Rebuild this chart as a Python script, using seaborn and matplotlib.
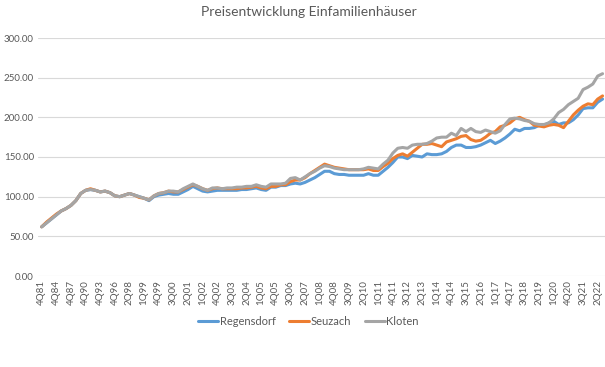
import pandas as pd
import seaborn as sns
import matplotlib.pyplot as plt

# categories: yearly 4Q81..4Q97, then quarterly from 1Q98 to 3Q22
quarters = ['4Q%02d' % y for y in range(81, 98)]
for y in range(98, 123):
    for q in range(1, 5):
        quarters.append('%dQ%02d' % (q, y % 100))
quarters = quarters[:116]

tick_labels = ['4Q81', '4Q84', '4Q87', '4Q90', '4Q93', '4Q96', '2Q98', '1Q99', '4Q99',
               '3Q00', '2Q01', '1Q02', '4Q02', '3Q03', '2Q04', '1Q05', '4Q05', '3Q06',
               '2Q07', '1Q08', '4Q08', '3Q09', '2Q10', '1Q11', '4Q11', '3Q12', '2Q13',
               '1Q14', '4Q14', '3Q15', '2Q16', '1Q17', '4Q17', '3Q18', '2Q19', '1Q20',
               '4Q20', '3Q21', '2Q22']

regensdorf = [62, 67, 72, 77, 82, 85, 89, 95, 104, 108, 109, 108, 106, 107, 105, 101, 100,
              102, 104, 102, 100, 98, 95, 100, 102, 103, 104, 103, 103, 106, 109, 113, 110,
              107, 106, 107, 108, 108, 108, 108, 108, 109, 109, 110, 111, 109, 108, 112, 112,
              114, 114, 116, 117, 116, 118, 121, 124, 128, 132, 132, 129, 128, 128, 127, 127,
              127, 127, 129, 127, 127, 132, 137, 143, 150, 150, 148, 152, 151, 150, 154, 153,
              153, 154, 157, 162, 165, 165, 162, 162, 163, 165, 168, 171, 167, 170, 174, 179,
              185, 183, 186, 186, 187, 190, 190, 193, 195, 191, 193, 193, 197, 203, 211, 212,
              212, 219, 223]
seuzach = [62, 68, 73, 78, 82, 85, 89, 95, 104, 108, 110, 108, 106, 107, 105, 101, 100,
           102, 104, 102, 99, 98, 96, 101, 104, 105, 107, 106, 106, 109, 112, 115, 113,
           110, 108, 110, 111, 110, 110, 110, 110, 111, 111, 112, 113, 111, 110, 113, 113,
           115, 115, 119, 121, 121, 124, 129, 133, 137, 141, 139, 137, 136, 135, 134, 134,
           134, 134, 135, 133, 133, 138, 142, 148, 152, 154, 151, 156, 161, 166, 166, 167,
           165, 163, 169, 171, 173, 176, 177, 172, 170, 171, 175, 180, 182, 188, 190, 193,
           198, 200, 197, 195, 190, 189, 188, 190, 191, 190, 187, 195, 203, 209, 214, 217,
           216, 223, 227]
kloten = [62, 67, 72, 77, 82, 85, 89, 95, 104, 108, 109, 108, 106, 107, 105, 101, 100,
          102, 104, 102, 100, 98, 96, 101, 104, 105, 107, 107, 106, 110, 113, 116, 113,
          110, 108, 111, 111, 110, 111, 111, 112, 112, 113, 113, 115, 113, 112, 116, 116,
          116, 117, 123, 124, 121, 125, 129, 132, 136, 139, 138, 136, 135, 134, 134, 134,
          134, 135, 137, 136, 135, 141, 146, 155, 161, 162, 161, 165, 166, 166, 167, 170,
          174, 175, 175, 180, 177, 186, 182, 186, 182, 181, 184, 182, 180, 183, 191, 198,
          199, 198, 196, 195, 192, 191, 191, 193, 198, 206, 210, 216, 220, 224, 235, 238,
          242, 252, 255]

series = ['Regensdorf', 'Seuzach', 'Kloten']
colors = ['#5B9BD5', '#ED7D31', '#A5A5A5']

df = pd.DataFrame({'pos': range(len(quarters)), 'quarter': quarters,
                   'Regensdorf': regensdorf, 'Seuzach': seuzach, 'Kloten': kloten})
long_df = df.melt(id_vars=['pos', 'quarter'], value_vars=series,
                  var_name='Gemeinde', value_name='Index')

sns.set_style('white')
plt.rcParams['font.family'] = ['Lato', 'DejaVu Sans']

fig = plt.figure(figsize=(6.05, 3.67), dpi=100)
ax = fig.add_axes([38 / 605, 91 / 367, 567 / 605, 238 / 367])

sns.lineplot(data=long_df, x='pos', y='Index', hue='Gemeinde', hue_order=series,
             palette=colors, linewidth=2.2, ax=ax, legend=False)

ax.set_xlim(-0.76, 115.5)
ax.set_ylim(0, 300)
ax.set_yticks(range(0, 301, 50))
ax.set_yticklabels(['%.2f' % v for v in range(0, 301, 50)], fontsize=7, color='#595959')
ax.set_xticks([quarters.index(t) for t in tick_labels])
ax.set_xticklabels(tick_labels, rotation=90, fontsize=7, color='#595959')
ax.tick_params(axis='both', length=0, pad=3)
ax.yaxis.grid(True, color='#D9D9D9', linewidth=0.8)
ax.set_axisbelow(True)
for s in ax.spines.values():
    s.set_visible(False)
ax.set_xlabel('')
ax.set_ylabel('')

fig.suptitle('Preisentwicklung Einfamilienhäuser', x=0.51, y=0.985, fontsize=10,
             color='#595959')

handles = [plt.Line2D([], [], color=c, linewidth=2.2) for c in colors]
fig.legend(handles, series, loc='center', bbox_to_anchor=(0.51, 0.123), ncol=3,
           frameon=False, fontsize=8, handlelength=1.8, handletextpad=0.15,
           columnspacing=1.2, labelcolor='#595959')

fig.savefig('out.png', dpi=100)
